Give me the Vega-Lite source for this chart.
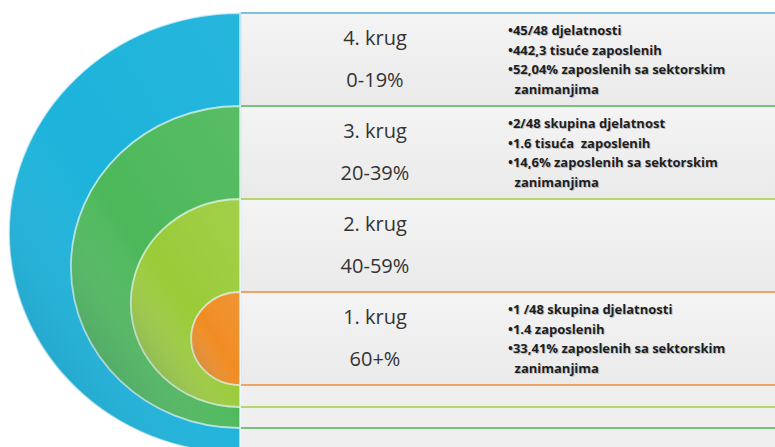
{
  "$schema": "https://vega.github.io/schema/vega-lite/v6.json",
  "width": 775,
  "height": 447,
  "autosize": {"type": "none"},
  "padding": 0,
  "background": "#ffffff",
  "config": {"view": {"stroke": null}, "axis": {"disable": true}, "legend": {"disable": true}},
  "data": {
    "values": [
      {"krug": 4, "od": 0, "do": 20, "naziv": "4. krug", "raspon": "0-19%", "opis": "•45/48 djelatnosti\n•442,3 tisuće zaposlenih\n•52,04% zaposlenih sa sektorskim\n\u200b\u2002zanimanjima"},
      {"krug": 3, "od": 20, "do": 40, "naziv": "3. krug", "raspon": "20-39%", "opis": "•2/48 skupina djelatnost\n•1.6 tisuća\u00a0\u00a0zaposlenih\n•14,6% zaposlenih sa sektorskim\n\u200b\u2002zanimanjima"},
      {"krug": 2, "od": 40, "do": 60, "naziv": "2. krug", "raspon": "40-59%", "opis": ""},
      {"krug": 1, "od": 60, "do": 80, "naziv": "1. krug", "raspon": "60+%", "opis": "•1 /48 skupina djelatnosti\n•1.4 zaposlenih\n•33,41% zaposlenih sa sektorskim\n\u200b\u2002zanimanjima"}
    ]
  },
  "layer": [
    {
      "description": "light panel behind the ring boxes",
      "mark": {"type": "rect", "clip": true, "fill": "#efefef"},
      "encoding": {
        "x": {"datum": 0, "type": "quantitative", "scale": {"domain": [-0.4486, 1], "nice": false, "zero": false}},
        "x2": {"datum": 1.05},
        "y": {"datum": 0, "type": "quantitative", "scale": {"domain": [-2.796, 93.33], "nice": false, "zero": false, "reverse": true}},
        "y2": {"datum": 100}
      }
    },
    {
      "description": "one box per ring, outlined in the ring colour",
      "mark": {
        "type": "rect", "clip": true, "strokeWidth": 2.2,
        "fill": {"x1": 0, "y1": 0, "x2": 0, "y2": 1, "gradient": "linear",
                 "stops": [{"offset": 0, "color": "#f4f4f4"}, {"offset": 1, "color": "#eaeaea"}]}
      },
      "encoding": {
        "x": {"datum": 0, "type": "quantitative"},
        "x2": {"datum": 1.05},
        "y": {"field": "od", "type": "quantitative"},
        "y2": {"field": "do"},
        "stroke": {"field": "krug", "type": "nominal",
                   "scale": {"domain": [4, 3, 2, 1], "range": ["#7fc2de", "#79c27b", "#b4d66a", "#f0a463"]}}
      }
    },
    {
      "description": "lower rims of the rings, carried across the panel",
      "mark": {"type": "point", "filled": false, "opacity": 1, "strokeWidth": 2.2, "shape": "M0,2 L14,2"},
      "encoding": {
        "x": {"datum": 0, "type": "quantitative"},
        "y": {"field": "od", "type": "quantitative"},
        "stroke": {"field": "krug", "type": "nominal",
                   "scale": {"domain": [4, 3, 2, 1], "range": ["#7fc2de", "#79c27b", "#b4d66a", "#f0a463"]}},
        "size": {"field": "krug", "type": "nominal",
                 "scale": {"type": "ordinal", "domain": [4, 3, 2, 1], "range": [193600, 103684, 43264, 8649]}}
      }
    },
    {
      "description": "half-ellipse rings, largest first",
      "mark": {
        "type": "point", "filled": true, "opacity": 1,
        "stroke": "#e9f9ff", "strokeOpacity": 0.7, "strokeWidth": 1.8,
        "shape": "M0,0 C-0.58,0 -1.05,0.4477 -1.05,1 C-1.05,1.5523 -0.58,2 0,2 Z"
      },
      "encoding": {
        "x": {"datum": 0, "type": "quantitative"},
        "y": {"field": "od", "type": "quantitative"},
        "fill": {"field": "krug", "type": "nominal",
                 "scale": {"domain": [4, 3, 2, 1], "range": ["#1db3db", "#4cb85a", "#9acb38", "#f08c22"]}},
        "size": {"field": "krug", "type": "nominal",
                 "scale": {"type": "ordinal", "domain": [4, 3, 2, 1], "range": [193600, 103684, 43264, 8649]}}
      }
    },
    {
      "description": "shading over each ring: deeper towards the lower left",
      "mark": {
        "type": "point", "filled": true, "opacity": 1, "strokeWidth": 0,
        "shape": "M0,0 C-0.58,0 -1.05,0.4477 -1.05,1 C-1.05,1.5523 -0.58,2 0,2 Z",
        "fill": {"x1": 0.9, "y1": 0, "x2": 0.1, "y2": 1, "gradient": "linear",
                 "stops": [{"offset": 0, "color": "rgba(255,255,255,0.04)"},
                           {"offset": 0.5, "color": "rgba(255,255,255,0)"},
                           {"offset": 1, "color": "rgba(0,40,70,0.22)"}]}
      },
      "encoding": {
        "x": {"datum": 0, "type": "quantitative"},
        "y": {"field": "od", "type": "quantitative"},
        "size": {"field": "krug", "type": "nominal",
                 "scale": {"type": "ordinal", "domain": [4, 3, 2, 1], "range": [193600, 103684, 43264, 8649]}}
      }
    },
    {
      "mark": {"type": "text", "font": "Open Sans", "fontSize": 20, "color": "#333333", "align": "center", "baseline": "middle", "dy": 26},
      "encoding": {
        "x": {"datum": 0.2523, "type": "quantitative"},
        "y": {"field": "od", "type": "quantitative"},
        "text": {"field": "naziv"}
      }
    },
    {
      "mark": {"type": "text", "font": "Open Sans", "fontSize": 20, "color": "#333333", "align": "center", "baseline": "middle", "dy": 68},
      "encoding": {
        "x": {"datum": 0.2523, "type": "quantitative"},
        "y": {"field": "od", "type": "quantitative"},
        "text": {"field": "raspon"}
      }
    },
    {
      "description": "soft shadow under the bullet text",
      "mark": {"type": "text", "font": "Open Sans", "fontSize": 13, "fontWeight": "bold", "color": "#8a8a8a", "opacity": 0.45,
               "align": "left", "baseline": "alphabetic", "lineBreak": "\n", "lineHeight": 19.5, "dx": 1, "dy": 23},
      "encoding": {
        "x": {"datum": 0.501, "type": "quantitative"},
        "y": {"field": "od", "type": "quantitative"},
        "text": {"field": "opis"}
      }
    },
    {
      "mark": {"type": "text", "font": "Open Sans", "fontSize": 13, "fontWeight": "bold", "color": "#1e1e1e",
               "align": "left", "baseline": "alphabetic", "lineBreak": "\n", "lineHeight": 19.5, "dy": 22},
      "encoding": {
        "x": {"datum": 0.501, "type": "quantitative"},
        "y": {"field": "od", "type": "quantitative"},
        "text": {"field": "opis"}
      }
    }
  ]
}
